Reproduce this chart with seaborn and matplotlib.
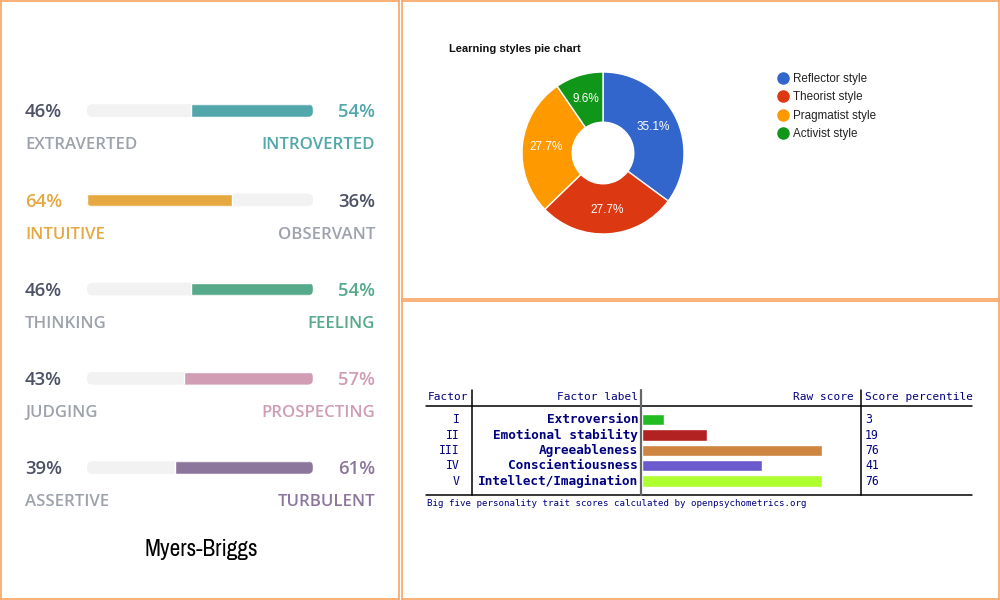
import numpy as np
import pandas as pd
import matplotlib
matplotlib.use("Agg")
import matplotlib.pyplot as plt
import matplotlib.transforms as mtransforms
from matplotlib.patches import FancyBboxPatch
from matplotlib.lines import Line2D
from matplotlib import font_manager
import seaborn as sns

# ==========================================================
# DATA
# ==========================================================

# Myers-Briggs (left side traits and their share)
mb_left = ["EXTRAVERTED", "INTUITIVE", "THINKING", "JUDGING", "ASSERTIVE"]
mb_right = ["INTROVERTED", "OBSERVANT", "FEELING", "PROSPECTING", "TURBULENT"]
mb_left_pct = [46, 64, 46, 43, 39]
mb_colors = ["#51a7aa", "#e6a841", "#56a98a", "#d09db5", "#8d769c"]

# Learning styles
ls_labels = ["Reflector style", "Theorist style", "Pragmatist style", "Activist style"]
ls_counts = [33, 26, 26, 9]
ls_colors = ["#3366cc", "#dc3912", "#ff9900", "#109618"]

# Big five
b5_roman = ["I", "II", "III", "IV", "V"]
b5_labels = ["Extroversion", "Emotional stability", "Agreeableness",
             "Conscientiousness", "Intellect/Imagination"]
b5_raw = [4, 12, 33, 22, 33]
b5_pct = [3, 19, 76, 41, 76]
b5_colors = ["#22bb22", "#b22222", "#cd853f", "#6a5acd", "#adff2f"]

# ==========================================================
# FIGURE
# ==========================================================

sns.set_style("white")
plt.rcParams["font.family"] = ["DejaVu Sans"]

W, H = 1000, 600
fig = plt.figure(figsize=(10, 6), dpi=100)
fig.patch.set_facecolor("white")


def box(x0, y0, x1, y1):
    # pixel box (top-left origin) -> figure rect
    return [x0 / W, 1 - y1 / H, (x1 - x0) / W, (y1 - y0) / H]


def fx(x):
    return x / W


def fy(y):
    return 1 - y / H


BORDER = "#f8aa6c"
for rect in [box(1, 1, 398.5, 599), box(402, 1, 999, 298.5), box(402, 301.5, 999, 599)]:
    fr = fig.add_axes(rect)
    fr.set_xticks([])
    fr.set_yticks([])
    for sp in fr.spines.values():
        sp.set_color(BORDER)
        sp.set_linewidth(1.3)

# ==========================================================
# 1. MYERS-BRIGGS BARS
# ==========================================================

OPEN = ["Open Sans", "DejaVu Sans"]
DARK = "#4d5165"
GREY = "#9da2ac"

axb = fig.add_axes(box(87, 66, 313, 512.2))
axb.patch.set_alpha(0)
track = pd.DataFrame({"trait": mb_left, "full": [100] * len(mb_left)})
sns.barplot(data=track, x="full", y="trait", color="#f2f2f2", saturation=1,
            width=0.142, ax=axb)
axb.set_xlim(0, 100)
axb.set_ylim(len(mb_left) - 0.5, -0.5)
axb.axis("off")

pos = axb.get_position()
ux = 100 / (pos.width * W)
uy = len(mb_left) / (pos.height * H)
aspect = uy / ux

for i, patch in enumerate(list(axb.patches)):
    x, y, w, h = patch.get_x(), patch.get_y(), patch.get_width(), patch.get_height()
    patch.remove()
    rounded = FancyBboxPatch((x, y), w, h,
                             boxstyle=f"round,pad=0,rounding_size={5.5 * ux}",
                             mutation_aspect=aspect, fc="#f2f2f2", ec="none")
    axb.add_patch(rounded)
    left = mb_left_pct[i]
    if left > 50:
        seg = axb.barh(i, left, left=0, height=h, color=mb_colors[i])[0]
    else:
        seg = axb.barh(i, 100 - left, left=left, height=h, color=mb_colors[i])[0]
    seg.set_clip_path(rounded)

tr = mtransforms.blended_transform_factory(fig.transFigure, axb.transData)
for i in range(len(mb_left)):
    left = mb_left_pct[i]
    right = 100 - left
    lc = mb_colors[i] if left > 50 else DARK
    rc = mb_colors[i] if right > 50 else DARK
    axb.text(fx(25), i + 0.02, f"{left}%", transform=tr, ha="left", va="center",
             fontsize=13.3, fontweight="semibold", color=lc, family=OPEN)
    axb.text(fx(375), i + 0.02, f"{right}%", transform=tr, ha="right", va="center",
             fontsize=13.3, fontweight="semibold", color=rc, family=OPEN)
    axb.text(fx(25), i + 0.39, mb_left[i], transform=tr, ha="left", va="center",
             fontsize=12.1, fontweight="semibold",
             color=mb_colors[i] if left > 50 else GREY, family=OPEN)
    axb.text(fx(375), i + 0.39, mb_right[i], transform=tr, ha="right", va="center",
             fontsize=12.1, fontweight="semibold",
             color=mb_colors[i] if right > 50 else GREY, family=OPEN)

# condensed face for the caption, if one is installed
names = sorted({f.name for f in font_manager.fontManager.ttflist})
narrow = [n for n in names if "Narrow" in n or "Condensed" in n]
fig.text(fx(201), fy(549), "Myers-Briggs", ha="center", va="center", fontsize=16.8,
         color="black", family=narrow[:1] + ["DejaVu Sans"], fontstretch="condensed")

# ==========================================================
# 2. LEARNING STYLES DONUT
# ==========================================================

ARIAL = ["Liberation Sans", "DejaVu Sans"]

axp = fig.add_axes(box(522, 72, 684, 234))
wedges, texts, autotexts = axp.pie(
    ls_counts, colors=ls_colors, startangle=90, counterclock=False,
    autopct="%.1f%%", pctdistance=0.7,
    wedgeprops=dict(width=0.62, edgecolor="white", linewidth=1),
    textprops=dict(color="white", fontsize=8.5, family=ARIAL))
axp.set_xlim(-1, 1)
axp.set_ylim(-1, 1)

fig.text(fx(449), fy(49), "Learning styles pie chart", fontsize=8,
         fontweight="bold", family=ARIAL, va="center", ha="left", color="#111111")

handles = [Line2D([], [], marker="o", ls="", markersize=8, markerfacecolor=c,
                  markeredgecolor=c) for c in ls_colors]
fig.legend(handles, ls_labels, loc="upper left", bbox_to_anchor=(fx(776), fy(73)),
           frameon=False, handletextpad=0.25, handlelength=1.2, labelspacing=0.55,
           borderpad=0, borderaxespad=0,
           prop=dict(family=ARIAL, size=8.4), labelcolor="#222222")

# ==========================================================
# 3. BIG FIVE TABLE
# ==========================================================

MONO = ["DejaVu Sans Mono"]
NAVY = "#000080"

axt = fig.add_axes(box(642, 412, 860, 488.7))
axt.patch.set_alpha(0)
sns.barplot(x=b5_raw, y=b5_labels, hue=b5_labels, palette=b5_colors,
            saturation=1, width=0.75, legend=False, ax=axt)
axt.set_xlim(0, 40)
axt.set_ylim(len(b5_labels) - 0.5, -0.5)
axt.axis("off")

tt = mtransforms.blended_transform_factory(fig.transFigure, axt.transData)
for i in range(len(b5_labels)):
    axt.text(fx(460), i, b5_roman[i], transform=tt, ha="right", va="center",
             fontsize=8.3, family=MONO, color=NAVY)
    axt.text(fx(638), i, b5_labels[i], transform=tt, ha="right", va="center",
             fontsize=9.2, fontweight="bold", family=MONO, color=NAVY)
    axt.text(fx(865), i, str(b5_pct[i]), transform=tt, ha="left", va="center",
             fontsize=8.3, family=MONO, color=NAVY)

# header
fig.text(fx(428), fy(397), "Factor", ha="left", va="center", fontsize=8,
         family=MONO, color=NAVY)
fig.text(fx(638), fy(397), "Factor label", ha="right", va="center", fontsize=8,
         family=MONO, color=NAVY)
fig.text(fx(854), fy(397), "Raw score", ha="right", va="center", fontsize=8,
         family=MONO, color=NAVY)
fig.text(fx(865), fy(397), "Score percentile", ha="left", va="center", fontsize=8,
         family=MONO, color=NAVY)

# rules
fig.add_artist(Line2D([fx(426), fx(972)], [fy(405.5), fy(405.5)], color="black", lw=1.1))
fig.add_artist(Line2D([fx(426), fx(972)], [fy(494.5), fy(494.5)], color="black", lw=1.1))
fig.add_artist(Line2D([fx(471.5), fx(471.5)], [fy(390), fy(494.5)], color="black", lw=1.1))
fig.add_artist(Line2D([fx(860.5), fx(860.5)], [fy(390), fy(494.5)], color="black", lw=1.1))
fig.add_artist(Line2D([fx(641.2), fx(641.2)], [fy(390), fy(494.5)], color="#666666", lw=1.6))

fig.text(fx(427), fy(503.5),
         "Big five personality trait scores calculated by openpsychometrics.org",
         ha="left", va="center", fontsize=6.6, family=MONO, color=NAVY)

plt.savefig("out.png", dpi=100)
plt.close()
